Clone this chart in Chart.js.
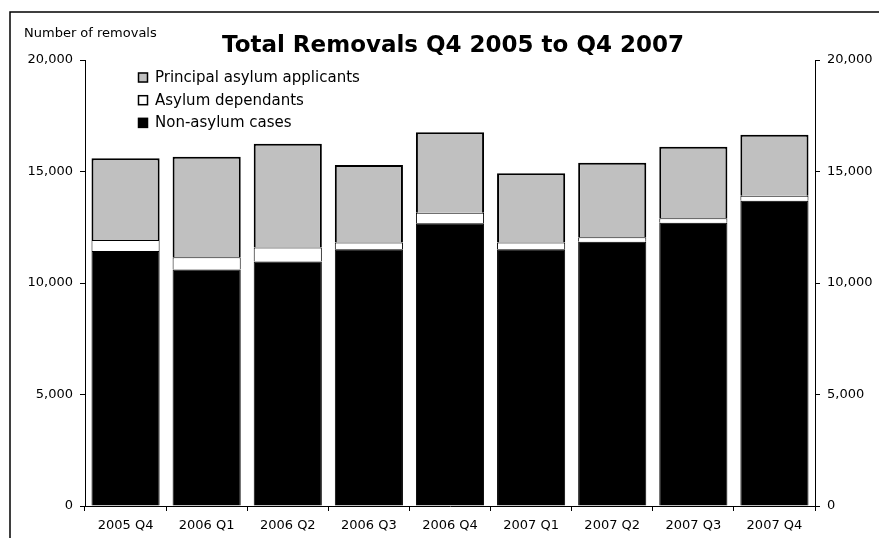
<!DOCTYPE html>
<html>
<head>
<meta charset="utf-8">
<title>Total Removals Q4 2005 to Q4 2007</title>
<script src="https://cdn.jsdelivr.net/npm/chart.js@4.4.1/dist/chart.umd.min.js"></script>
<style>
  html, body { margin: 0; padding: 0; background: #fff; }
  #box { width: 879px; height: 538px; position: relative; }
</style>
</head>
<body>
<div id="box"><canvas id="graficoRemovals"></canvas></div>
<script>
// Dados
var trimestres = ['2005 Q4', '2006 Q1', '2006 Q2', '2006 Q3', '2006 Q4', '2007 Q1', '2007 Q2', '2007 Q3', '2007 Q4'];
var naoAsilo = [11430, 10610, 10960, 11510, 12680, 11510, 11850, 12700, 13690];
var dependentes = [500, 540, 630, 310, 470, 310, 200, 200, 220];
var requerentes = [3660, 4510, 4650, 3470, 3610, 3100, 3340, 3210, 2740];
var ticksY = [0, 5000, 10000, 15000, 20000];

var fonte = "'DejaVu Sans', sans-serif";

// Moldura, título, rótulo do eixo e legenda
var extras = {
    id: 'extras',
    beforeDraw: function (chart) {
        var ctx = chart.ctx;
        ctx.save();
        ctx.strokeStyle = '#000';
        ctx.lineWidth = 1.5;
        ctx.strokeRect(10, 12, 1000, 1000);
        ctx.restore();
    },
    afterDraw: function (chart) {
        var ctx = chart.ctx;
        ctx.save();
        ctx.fillStyle = '#000';
        ctx.textBaseline = 'middle';

        ctx.font = 'bold 23px ' + fonte;
        ctx.textAlign = 'center';
        ctx.fillText('Total Removals Q4 2005 to Q4 2007', 453, 46);

        ctx.font = '13px ' + fonte;
        ctx.textAlign = 'left';
        ctx.fillText('Number of removals', 24, 34);

        // legenda invertida (como no Excel)
        var ds = chart.data.datasets.slice().reverse();
        ctx.font = '15px ' + fonte;
        ds.forEach(function (d, i) {
            var y = 77 + i * 22.7;
            ctx.fillStyle = d.backgroundColor;
            ctx.fillRect(138, y - 4.5, 10, 10);
            ctx.strokeStyle = '#000';
            ctx.lineWidth = 1.5;
            ctx.strokeRect(138.5, y - 4, 9, 9);
            ctx.fillStyle = '#000';
            ctx.fillText(d.label, 155, y + 1);
        });
        ctx.restore();
    }
};

function formatar(v) {
    return Number(v).toLocaleString('en-US');
}

var eixoY = function (posicao, largura) {
    return {
        type: 'linear',
        position: posicao,
        stacked: true,
        min: 0,
        max: 20000,
        afterBuildTicks: function (scale) {
            scale.ticks = ticksY.map(function (v) { return { value: v }; });
        },
        afterFit: function (scale) { scale.width = largura; },
        grid: { display: true, drawOnChartArea: false, color: '#000', tickLength: 5, tickWidth: 1 },
        border: { display: true, color: '#000', width: 1 },
        ticks: {
            color: '#000',
            padding: 7,
            font: { family: fonte, size: 13 },
            callback: formatar
        }
    };
};

var ctxRemovals = document.getElementById('graficoRemovals').getContext('2d');
new Chart(ctxRemovals, {
    type: 'bar',
    data: {
        labels: trimestres,
        datasets: [
            {
                label: 'Non-asylum cases',
                data: naoAsilo,
                backgroundColor: '#000000',
                borderColor: '#000000',
                borderWidth: 1
            },
            {
                label: 'Asylum dependants',
                data: dependentes,
                backgroundColor: '#ffffff',
                borderColor: '#000000',
                borderWidth: 1
            },
            {
                label: 'Principal asylum applicants',
                data: requerentes,
                backgroundColor: '#c0c0c0',
                borderColor: '#000000',
                borderWidth: 2
            }
        ]
    },
    options: {
        responsive: true,
        maintainAspectRatio: false,
        animation: false,
        barPercentage: 0.84,
        categoryPercentage: 1,
        layout: { padding: { top: 60, left: 0, right: 0, bottom: 0 } },
        plugins: {
            legend: { display: false },
            title: { display: false },
            tooltip: { enabled: false }
        },
        scales: {
            x: {
                stacked: true,
                afterFit: function (scale) { scale.height = 32; },
                grid: { display: true, drawOnChartArea: false, offset: true, color: '#000', tickLength: 5 },
                border: { display: true, color: '#000', width: 1 },
                ticks: {
                    color: '#000',
                    padding: 7,
                    maxRotation: 0,
                    font: { family: fonte, size: 13 }
                }
            },
            y: eixoY('left', 85),
            y2: eixoY('right', 64)
        }
    },
    plugins: [extras]
});
</script>
</body>
</html>
